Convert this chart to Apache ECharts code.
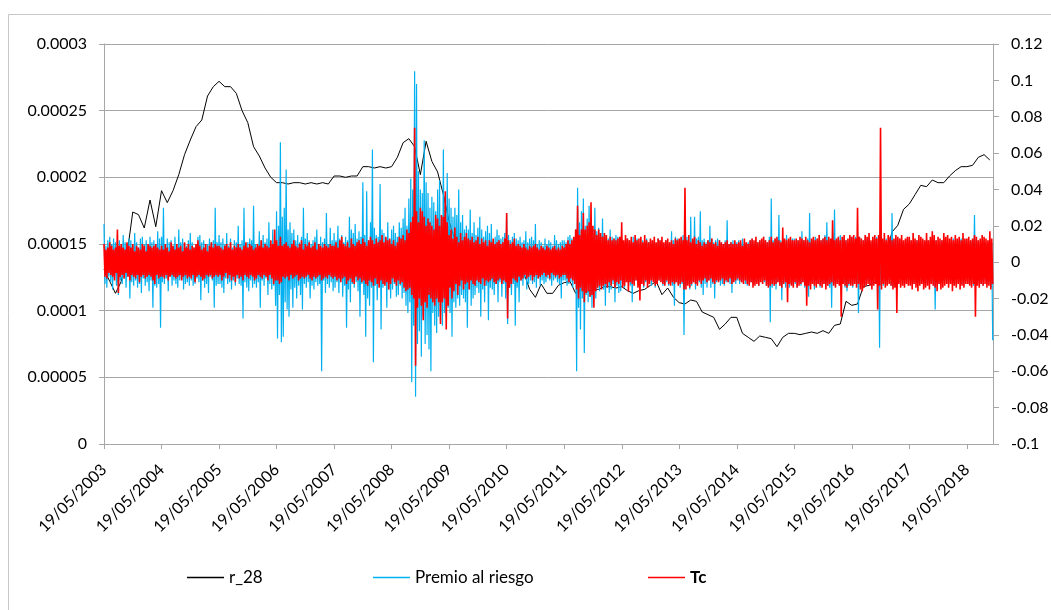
<!DOCTYPE html>
<html><head><meta charset="utf-8">
<script src="https://cdn.jsdelivr.net/npm/echarts@6.0.0/dist/echarts.min.js"></script>
<style>html,body{margin:0;padding:0;background:#fff}#c{width:1051px;height:610px}</style>
</head><body><div id="c"></div>
<script>
// ---- data ----
const seriesNames = ['r_28', 'Premio al riesgo', 'Tc'];
const seriesColors = ['#000000', '#00b0f0', '#ff0000'];
const tickYears = [2003,2004,2005,2006,2007,2008,2009,2010,2011,2012,2013,2014,2015,2016,2017,2018];
const leftTicks = [0, 0.00005, 0.0001, 0.00015, 0.0002, 0.00025, 0.0003];
const rightTicks = [-0.1, -0.08, -0.06, -0.04, -0.02, 0, 0.02, 0.04, 0.06, 0.08, 0.1, 0.12];

// r_28: one reading every 1/10 year from 19/05/2003, in units of 1e-6
const r28PerYear = 10;
const r28Unit = 1e-6;
const r28 = [
131,122,113,122,142,174,172,162,183,163,
190,181,190,202,217,228,238,243,261,268,
272,268,268,263,250,241,223,216,207,200,
196,196,195,196,196,195,196,195,196,195,
201,201,200,201,201,208,208,207,208,207,
208,215,226,229,223,202,227,212,204,187,
167,153,142,137,132,129,126,125,123,124,
125,127,126,128,116,110,120,113,113,119,
121,122,113,116,114,116,116,118,118,117,
118,115,113,115,116,119,122,112,117,110,
106,105,108,107,99,97,95,86,90,95,
95,83,80,77,81,80,79,73,80,83,
83,82,83,84,83,85,83,89,90,107,
104,105,118,119,121,131,143,159,164,176,
180,187,194,193,198,196,196,201,205,208,
208,209,215,217,213
];

// Premio al riesgo and Tc: one reading every 1/60 year from 19/05/2003, in units of 1e-3
const noisePerYear = 60;
const noiseUnit = 1e-3;
const premio = [
21,-12,9,-14,12,-8,14,-11,10,-15,13,-7,11,-13,8,-18,12,-10,9,-12,15,-9,11,-14,10,-8,13,-20,12,-11,9,-13,16,-10,11,-14,8,-12,13,-17,14,-9,10,-13,12,-11,9,-16,14,-10,11,-25,12,-13,10,-14,17,-12,13,-36,
14,-11,30,-12,10,-9,13,-16,11,-8,12,-13,9,-10,14,-12,8,-14,18,-10,11,-9,13,-15,10,-12,9,-11,12,-13,16,-10,11,-13,8,-12,10,-9,14,-11,15,-21,11,-10,12,-14,9,-12,10,-17,13,-8,11,-10,12,-25,30,-13,11,-12,
15,-12,11,-14,13,-17,10,-9,16,-12,9,-11,13,-15,8,-10,12,-13,11,-9,20,-12,10,-13,12,-31,30,-11,9,-14,11,-16,13,-10,12,-14,31,-12,10,-14,9,-11,17,-25,12,-10,15,-13,11,-9,13,-18,22,-12,10,-15,18,-13,12,-24,
28,-42,20,-18,66,-44,25,-41,30,-22,51,-26,18,-30,22,-15,16,-25,18,-14,12,-20,15,-13,11,-18,14,-26,30,-12,13,-14,16,-11,12,-20,10,-13,12,-15,14,-11,18,-13,10,-12,14,-60,11,-10,13,-17,27,-12,10,-14,19,-11,12,-16,
16,-14,12,-11,20,-17,13,-10,15,-19,11,-13,14,-36,12,-15,25,-22,18,-12,16,-14,21,-11,13,-16,17,-30,14,-12,44,-18,15,-41,39,-20,12,-24,22,-14,62,-55,19,-13,15,-21,14,-12,43,-37,18,-14,16,-12,13,-25,22,-15,12,-20,
18,-15,20,-12,16,-19,14,-18,22,-13,19,-20,24,-17,30,-24,20,-28,35,-22,46,-66,40,-35,105,-74,98,-45,50,-38,40,-52,38,-30,67,-45,44,-40,38,-48,30,-60,36,-28,33,-35,28,-39,40,-30,45,-32,26,-35,62,-28,35,-30,49,-25,
35,-28,30,-41,25,-22,30,-25,26,-20,40,-24,22,-18,26,-20,18,-22,20,-36,18,-15,29,-24,16,-20,22,-18,15,-14,19,-17,25,-30,18,-15,14,-22,17,-13,20,-32,16,-14,21,-15,12,-18,14,-12,18,-22,15,-11,13,-19,14,-12,16,-20,
27,-34,15,-14,12,-18,14,-12,16,-35,13,-14,12,-22,14,-10,11,-13,12,-9,17,-15,11,-12,13,-10,14,-12,12,-11,21,-14,10,-9,12,-13,11,-10,9,-12,13,-11,10,-9,12,-10,11,-13,9,-10,15,-9,12,-11,10,-12,11,-20,12,-10,
12,-10,11,-13,14,-12,15,-11,13,-14,12,-10,18,-60,41,-25,22,-37,28,-20,35,-50,20,-18,24,-22,31,-19,22,-25,18,-16,30,-20,17,-14,19,-16,15,-13,24,-15,16,-24,15,-14,13,-17,18,-15,14,-12,13,-22,15,-13,14,-17,12,-16,
13,-12,11,-14,12,-10,13,-11,12,-13,10,-22,14,-11,12,-10,13,-12,10,-13,11,-9,12,-14,10,-11,13,-12,11,-10,12,-13,10,-9,12,-14,10,-11,13,-10,12,-9,11,-13,10,-12,12,-11,10,-13,11,-12,17,-13,12,-24,14,-11,13,-12,
12,-14,13,-12,15,-40,12,-13,14,-12,11,-15,25,-13,12,-11,25,-15,13,-12,14,-11,28,-14,12,-18,13,-12,11,-14,12,-10,20,-14,13,-12,11,-20,12,-11,13,-10,12,-13,11,-12,10,-13,12,-11,23,-11,10,-12,11,-17,12,-10,11,-12,
11,-10,12,-12,10,-11,13,-9,11,-12,10,-13,11,-10,12,-11,13,-12,10,-11,12,-10,11,-13,12,-9,10,-12,14,-11,12,-13,11,-12,14,-33,35,-14,12,-11,13,-15,12,-11,26,-13,12,-21,13,-12,11,-14,15,-12,11,-14,12,-11,13,-13,
13,-12,11,-14,12,-11,10,-13,17,-11,12,-14,11,-12,13,-19,27,-13,12,-11,12,-15,14,-10,13,-12,11,-14,12,-11,13,-12,15,-11,22,-13,12,-14,11,-25,16,-12,29,-13,12,-11,14,-12,15,-13,12,-11,13,-14,12,-16,11,-13,14,-12,
13,-14,12,-11,14,-12,13,-28,14,-12,13,-15,12,-11,14,-13,12,-10,13,-12,11,-13,12,-11,13,-12,14,-10,12,-47,28,-12,11,-13,12,-11,13,-12,11,-10,12,-13,27,-14,12,-11,13,-15,12,-11,13,-10,12,-12,11,-13,12,-10,13,-12,
11,-10,12,-11,10,-12,11,-9,12,-10,11,-12,10,-11,12,-10,11,-12,13,-10,12,-11,10,-12,11,-13,10,-26,12,-11,10,-12,11,-10,12,-11,13,-10,11,-12,10,-11,12,-10,11,-12,13,-11,10,-12,11,-10,12,-11,13,-12,10,-11,12,-10,
11,-12,10,-11,12,-10,11,-13,26,-12,11,-10,12,-11,10,-12,11,-13,12,-10,11,-12,10,-11,12,-14,11,-43
];
const tc = [
10,-8,7,-9,8,-6,11,-7,9,-8,7,-10,8,-6,18,-17,9,-8,10,-7,8,-9,7,-6,11,-8,9,-10,8,-7,10,-8,6,-9,9,-7,8,-11,7,-8,10,-7,9,-9,6,-8,10,-7,9,-8,8,-10,9,-12,10,-7,8,-9,7,-8,
9,-8,7,-9,10,-7,8,-10,6,-8,11,-7,9,-8,7,-9,10,-8,8,-7,9,-10,6,-8,11,-7,8,-9,10,-8,7,-9,9,-7,8,-11,10,-8,12,-7,9,-8,7,-10,8,-9,10,-7,6,-8,9,-7,11,-9,8,-8,10,-7,9,-8,
9,-7,8,-10,7,-8,9,-6,10,-9,8,-7,11,-10,7,-8,9,-11,8,-7,10,-9,8,-8,7,-10,9,-7,11,-8,8,-9,10,-7,9,-8,7,-10,8,-9,10,-7,9,-8,12,-9,8,-7,10,-8,9,-10,8,-7,12,-9,10,-12,18,-10,
12,-10,9,-12,14,-11,9,-8,10,-9,11,-8,9,-10,8,-7,10,-9,12,-8,9,-7,8,-10,10,-9,12,-8,7,-9,10,-8,9,-7,11,-9,8,-10,9,-8,11,-9,7,-8,10,-7,9,-10,8,-9,10,-8,9,-9,8,-7,10,-8,9,-9,
9,-8,11,-10,8,-9,12,-11,14,-9,10,-8,9,-12,11,-10,8,-9,13,-11,10,-12,9,-8,11,-10,12,-9,10,-11,13,-10,11,-12,9,-13,12,-10,14,-11,12,-13,10,-9,13,-12,11,-14,12,-10,15,-12,11,-13,14,-11,12,-15,13,-12,
10,-9,12,-11,9,-13,11,-10,14,-12,13,-11,15,-14,12,-16,18,-15,16,-14,22,-18,25,-20,74,-57,28,-25,22,-20,30,-24,28,-32,25,-22,20,-25,24,-18,22,-20,20,-22,18,-24,26,-20,24,-22,20,-34,26,-22,25,-20,39,-37,22,-24,
15,-14,18,-20,13,-16,19,-12,14,-18,11,-13,16,-10,12,-15,14,-12,16,-11,13,-15,12,-10,14,-12,11,-13,12,-10,14,-11,10,-12,13,-9,11,-13,12,-10,9,-11,12,-10,11,-9,13,-11,10,-12,11,-10,12,-9,10,-12,11,-10,13,-11,
27,-31,12,-14,10,-12,11,-9,13,-10,9,-11,10,-8,9,-10,8,-9,10,-7,8,-9,7,-8,9,-7,8,-10,9,-8,10,-7,8,-9,7,-8,9,-7,8,-6,7,-8,9,-7,8,-9,7,-6,8,-7,9,-8,7,-7,8,-9,7,-8,9,-7,
8,-7,10,-9,12,-11,10,-9,12,-10,14,-12,18,-15,31,-20,15,-14,18,-16,27,-22,18,-17,20,-16,22,-19,33,-18,20,-25,18,-16,15,-14,18,-13,16,-15,14,-13,16,-12,15,-14,12,-11,14,-13,12,-10,13,-14,12,-11,13,-12,14,-10,
22,-14,12,-13,15,-11,13,-16,12,-11,14,-12,11,-13,15,-10,12,-14,13,-21,14,-12,11,-13,15,-10,12,-14,11,-12,13,-10,12,-11,14,-13,11,-12,13,-10,12,-11,14,-12,11,-13,12,-10,13,-12,11,-13,12,-11,10,-12,13,-11,12,-13,
13,-12,14,-11,12,-15,41,-15,12,-13,15,-14,11,-12,13,-11,14,-12,10,-13,12,-10,11,-12,9,-10,11,-9,10,-11,12,-10,11,-9,13,-11,10,-12,11,-10,9,-11,12,-10,11,-9,10,-12,11,-10,12,-11,10,-9,11,-12,10,-11,12,-10,
10,-9,11,-10,12,-11,9,-12,13,-10,11,-12,10,-13,12,-11,13,-14,12,-13,14,-12,11,-13,12,-11,13,-12,14,-10,12,-13,11,-14,12,-13,14,-12,11,-13,13,-12,14,-11,12,-13,11,-14,19,-12,13,-11,12,-22,13,-12,14,-13,12,-14,
12,-11,13,-14,12,-13,14,-12,13,-11,12,-13,14,-24,12,-13,11,-15,13,-12,14,-13,12,-14,13,-12,15,-13,12,-14,13,-12,14,-15,12,-13,14,-12,13,-11,23,-13,12,-14,13,-12,14,-13,12,-30,14,-12,15,-13,12,-14,13,-12,15,-13,
14,-13,15,-12,13,-14,30,-12,14,-15,13,-16,12,-14,15,-13,14,-12,16,-13,12,-15,14,-13,15,-12,13,-26,15,-13,74,-15,13,-12,16,-14,12,-13,15,-12,14,-13,12,-15,13,-14,15,-28,14,-12,13,-14,15,-13,12,-14,13,-12,14,-13,
14,-13,12,-15,16,-12,13,-14,12,-16,15,-13,14,-12,13,-15,12,-14,16,-13,12,-15,14,-12,17,-13,15,-14,12,-16,14,-12,13,-15,12,-14,16,-13,14,-12,15,-14,13,-12,14,-16,12,-13,15,-14,13,-12,14,-15,12,-13,16,-14,13,-12,
13,-12,14,-13,12,-14,13,-12,15,-30,14,-13,12,-14,13,-12,15,-13,14,-12,13,-14,12,-13,17,-15,13,-12
];

// ---- build ----
const DAY = 86400000;
const startTs = new Date(2003, 4, 19).getTime();
const endTs = new Date(2018, 10, 1).getTime();
const tickTs = tickYears.map(y => new Date(y, 4, 19).getTime());
function toPoints(vals, perYear, unit) {
  const step = 365.25 / perYear * DAY;
  return vals.map((v, i) => [startTs + i * step, v * unit]);
}
const pad = n => (n < 10 ? '0' : '') + n;
const fmtDate = v => { const d = new Date(v); return pad(d.getDate()) + '/' + pad(d.getMonth() + 1) + '/' + d.getFullYear(); };
const FONT = 'Lato';
const AX = '#a6a6a6';

function legendFor(i, left, bold) {
  return {
    data: [{name: seriesNames[i], icon: 'rect', itemStyle: {color: seriesColors[i], borderWidth: 0}}],
    left: left, top: 564, itemWidth: 37, itemHeight: 1.3, selectedMode: false,
    textStyle: {fontFamily: FONT, fontSize: 17, color: '#000', fontWeight: bold ? 'bold' : 'normal'}
  };
}

const chart = echarts.init(document.getElementById('c'), null, {renderer: 'canvas'});
chart.setOption({
  animation: false,
  backgroundColor: '#fff',
  graphic: [{type: 'rect', silent: true, z: -10, shape: {x: 8.5, y: 14.5, width: 1100, height: 700},
    style: {fill: 'none', stroke: '#c8c8c8', lineWidth: 1}}],
  grid: {left: 104, right: 58, top: 44, bottom: 166, containLabel: false, outerBoundsMode: 'none'},
  legend: [legendFor(0, 182, false), legendFor(1, 368, false), legendFor(2, 643, true)],
  xAxis: {
    type: 'value', min: startTs, max: endTs,
    axisLine: {show: true, onZero: false, lineStyle: {color: AX, width: 1}},
    axisTick: {show: true, customValues: tickTs, length: 5, lineStyle: {color: AX}},
    axisLabel: {customValues: tickTs, rotate: 45, margin: 23, formatter: fmtDate,
      fontFamily: FONT, fontSize: 16, color: '#000'},
    splitLine: {show: false}
  },
  yAxis: [
    {type: 'value', position: 'left', min: leftTicks[0], max: leftTicks[leftTicks.length - 1], interval: leftTicks[1] - leftTicks[0],
      axisLine: {show: true, lineStyle: {color: AX}},
      axisTick: {show: true, length: 5, lineStyle: {color: AX}},
      axisLabel: {margin: 17, fontFamily: FONT, fontSize: 16, color: '#000', formatter: v => String(+v.toPrecision(6))},
      splitLine: {show: true, lineStyle: {color: AX, width: 1}}},
    {type: 'value', position: 'right', min: rightTicks[0], max: rightTicks[rightTicks.length - 1], interval: 0.02,
      axisLine: {show: true, lineStyle: {color: AX}},
      axisTick: {show: true, length: 6, lineStyle: {color: AX}},
      axisLabel: {margin: 18, fontFamily: FONT, fontSize: 16, color: '#000', formatter: v => String(+v.toFixed(4))},
      splitLine: {show: false}}
  ],
  series: [
    {name: seriesNames[0], type: 'line', yAxisIndex: 0, data: toPoints(r28, r28PerYear, r28Unit),
      showSymbol: false, symbol: 'none', color: seriesColors[0], lineStyle: {width: 1, color: seriesColors[0]}, z: 2},
    {name: seriesNames[1], type: 'line', yAxisIndex: 1, data: toPoints(premio, noisePerYear, noiseUnit),
      showSymbol: false, symbol: 'none', color: seriesColors[1], lineStyle: {width: 1.2, color: seriesColors[1]}, z: 3},
    {name: seriesNames[2], type: 'line', yAxisIndex: 1, data: toPoints(tc, noisePerYear, noiseUnit),
      showSymbol: false, symbol: 'none', color: seriesColors[2], lineStyle: {width: 1.6, color: seriesColors[2]}, z: 4}
  ]
});
</script>
</body></html>
